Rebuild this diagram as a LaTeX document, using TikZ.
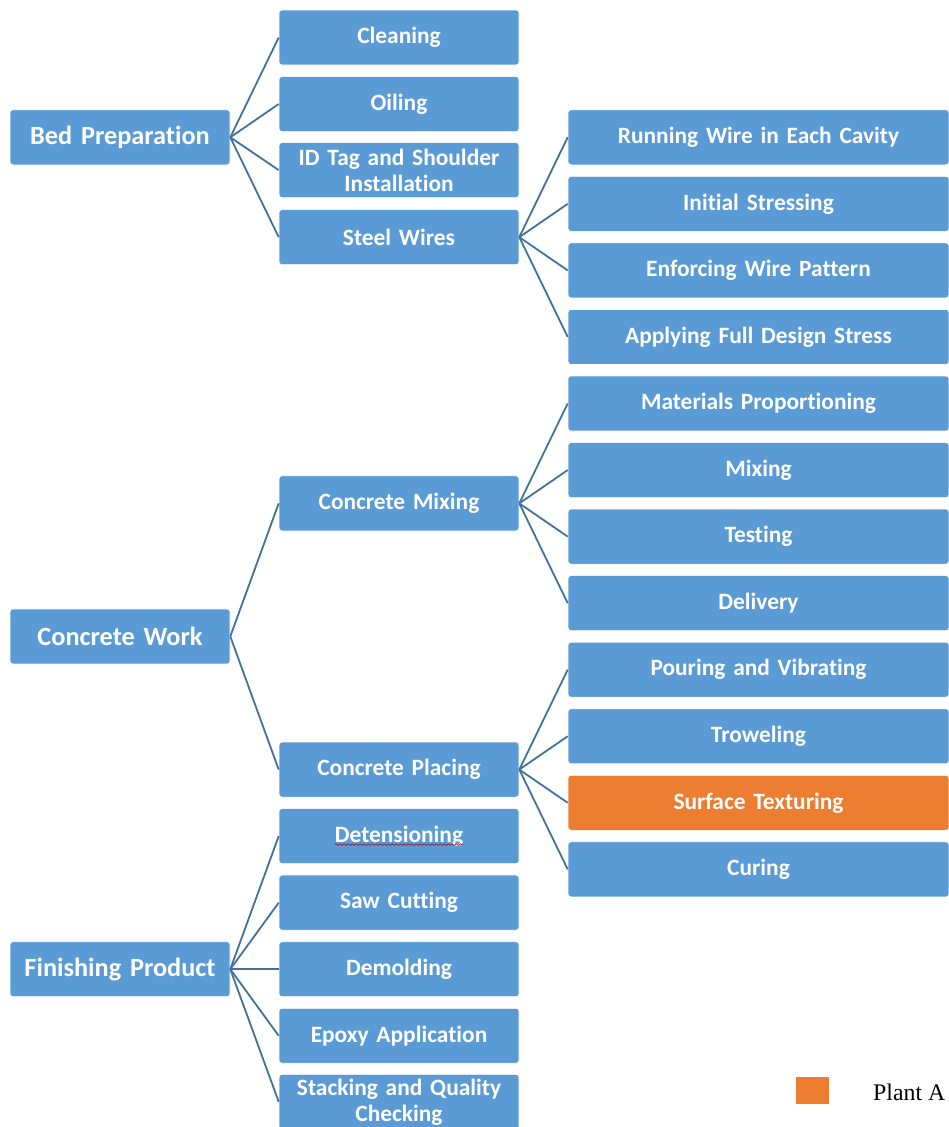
\documentclass[tikz,border=0pt]{standalone}
\usepackage{fontspec}
\setmainfont[Ligatures=NoCommon]{Carlito}
\newfontfamily\legendfont{Liberation Serif}
\usetikzlibrary{calc,decorations.pathmorphing}
\definecolor{boxblue}{HTML}{5B9BD5}
\definecolor{boxorange}{HTML}{ED7D31}
\definecolor{linkblue}{HTML}{41719C}
\tikzset{
  box/.style={rectangle, rounded corners=3pt, fill=boxblue, draw=white, line width=0.6pt,
    minimum height=55pt, inner sep=2pt, text=white, align=center,
    font=\bfseries\fontsize{23.4}{26}\selectfont},
  lvlone/.style={box, minimum width=220pt, text width=214pt, font=\bfseries\fontsize{26.3}{29}\selectfont},
  lvltwo/.style={box, minimum width=240pt, text width=234pt},
  lvlthree/.style={box, minimum width=381pt, text width=375pt},
  hot/.style={fill=boxorange},
  link/.style={draw=linkblue, line width=1.8pt},
}
\begin{document}
\begin{tikzpicture}[x=1pt,y=-1pt]
\useasboundingbox (0,0) rectangle (949,1127);
% level 1
\node[lvlone] (bed) at (120,137.3) {Bed Preparation};
\node[lvlone] (cw) at (120,636.45) {Concrete Work};
\node[lvlone] (fp) at (120,969.2) {Finishing Product};
% level 2
\node[lvltwo] (clean) at (399,37.5) {Cleaning};
\node[lvltwo] (oil) at (399,104.05) {Oiling};
\node[lvltwo] (idtag) at (399,170.1) {ID Tag and Shoulder\\Installation};
\node[lvltwo] (steel) at (399,237.15) {Steel Wires};
\node[lvltwo] (cmix) at (399,503.35) {Concrete Mixing};
\node[lvltwo] (cplace) at (399,769.55) {Concrete Placing};
\node[lvltwo] (det) at (399,836.1) {Detensioning};
\node[lvltwo] (saw) at (399,902.65) {Saw Cutting};
\node[lvltwo] (demold) at (399,969.2) {Demolding};
\node[lvltwo] (epoxy) at (399,1035.75) {Epoxy Application};
\node[lvltwo] (stack) at (399,1101.8) {Stacking and Quality\\Checking};
% level 3
\node[lvlthree] (run) at (758.5,137.3) {Running Wire in Each Cavity};
\node[lvlthree] (init) at (758.5,203.85) {Initial Stressing};
\node[lvlthree] (enf) at (758.5,270.4) {Enforcing Wire Pattern};
\node[lvlthree] (full) at (758.5,336.95) {Applying Full Design Stress};
\node[lvlthree] (mat) at (758.5,403.5) {Materials Proportioning};
\node[lvlthree] (mix) at (758.5,470.05) {Mixing};
\node[lvlthree] (test) at (758.5,536.6) {Testing};
\node[lvlthree] (deliv) at (758.5,603.15) {Delivery};
\node[lvlthree] (pour) at (758.5,669.7) {Pouring and Vibrating};
\node[lvlthree] (trow) at (758.5,736.25) {Troweling};
\node[lvlthree,hot] (surf) at (758.5,802.8) {Surface Texturing};
\node[lvlthree] (cure) at (758.5,869.35) {Curing};
% connectors
\foreach \c in {clean,oil,idtag,steel} \draw[link] (bed.east) -- (\c.west);
\foreach \c in {run,init,enf,full} \draw[link] (steel.east) -- (\c.west);
\foreach \c in {cmix,cplace} \draw[link] (cw.east) -- (\c.west);
\foreach \c in {mat,mix,test,deliv} \draw[link] (cmix.east) -- (\c.west);
\foreach \c in {pour,trow,surf,cure} \draw[link] (cplace.east) -- (\c.west);
\foreach \c in {det,saw,demold,epoxy,stack} \draw[link] (fp.east) -- (\c.west);
% spell-check squiggle
\draw[red!85!black, line width=0.7pt, decorate, decoration={snake, segment length=4pt, amplitude=0.8pt}]
  ($(det.center)+(-64,8.5)$) -- ($(det.center)+(64,8.5)$);
% legend
\node[rectangle, fill=boxorange, minimum width=33pt, minimum height=27pt, inner sep=0pt] (legsq) at (812.5,1090.5) {};
\node[anchor=west, inner sep=0pt, font=\legendfont\fontsize{23.8}{26}\selectfont] (legtxt) at (873,1092) {Plant A};
\end{tikzpicture}
\end{document}
